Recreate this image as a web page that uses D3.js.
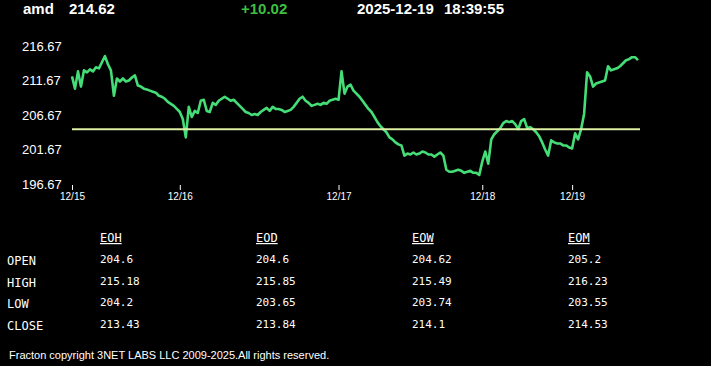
<!DOCTYPE html>
<html>
<head>
<meta charset="utf-8">
<script src="https://cdn.jsdelivr.net/npm/d3@7"></script>
<style>
  html, body { margin: 0; padding: 0; background: #000; }
  svg { display: block; }
</style>
</head>
<body>
<svg id="chart" width="711" height="366"></svg>
<script>
// ---- header ----
const symbol = "amd";
const lastPrice = "214.62";
const change = "+10.02";
const dateText = "2025-12-19";
const timeText = "18:39:55";

// ---- price series (sampled intraday, 12/15 .. 12/19) ----
const prices = [
  212.26, 210.49, 212.99, 210.79, 213.14, 212.85, 213.29, 212.99, 213.58, 213.43,
  214.32, 215.20, 214.02, 213.14, 209.46, 211.96, 211.52, 211.96, 211.52, 211.67,
  212.11, 212.41, 210.93, 210.79, 210.49, 210.35, 210.20, 210.05, 209.91, 209.46,
  209.32, 209.02, 208.58, 208.29, 207.99, 207.55, 207.11, 206.08, 203.43, 207.85,
  206.38, 207.26, 206.96, 208.73, 208.88, 207.26, 207.11, 208.43, 208.14, 208.73,
  209.02, 209.32, 209.02, 208.73, 208.88, 208.43, 207.99, 207.55, 207.11, 206.96,
  206.67, 206.82, 206.67, 207.11, 207.41, 207.70, 207.26, 207.85, 207.55, 207.55,
  207.41, 207.11, 207.26, 207.41, 207.85, 208.43, 209.02, 209.32, 208.73, 208.43,
  207.99, 208.14, 208.29, 208.14, 208.43, 208.29, 208.73, 208.88, 209.02, 208.88,
  212.99, 209.76, 210.79, 211.08, 210.20, 209.76, 209.32, 208.73, 208.14, 207.55,
  207.11, 206.38, 205.64, 205.05, 204.61, 204.17, 203.43, 203.14, 202.70, 202.41,
  202.26, 200.79, 201.08, 200.94, 201.23, 200.94, 201.08, 201.38, 201.23, 200.94,
  200.94, 200.64, 200.94, 201.23, 200.79, 198.73, 198.44, 198.44, 198.58, 198.73,
  198.58, 198.29, 198.44, 198.58, 198.29, 198.29, 197.99, 199.91, 201.38, 199.61,
  203.14, 203.88, 204.32, 204.76, 205.49, 205.79, 205.64, 205.79, 205.35, 204.61,
  205.79, 206.08, 204.76, 204.91, 204.61, 204.17, 203.58, 202.70, 201.67, 200.79,
  202.99, 202.70, 202.55, 202.55, 202.26, 202.26, 201.96, 201.82, 204.02, 203.14,
  204.61, 206.82, 212.85, 212.26, 210.79, 211.23, 211.38, 211.52, 211.67, 213.73,
  213.14, 213.29, 213.43, 213.73, 214.17, 214.61, 214.76, 215.05, 215.05, 214.62
];
const refLine = 204.6;   // open reference

// day boundaries (index in series) and labels
const dayLabels = ["12/15", "12/16", "12/17", "12/18", "12/19"];
const dayStarts = [0, 36, 89, 137, 167];

// y-axis tick values
const yTicks = [196.67, 201.67, 206.67, 211.67, 216.67];

// ---- table ----
const tableCols = ["EOH", "EOD", "EOW", "EOM"];
const tableRows = ["OPEN", "HIGH", "LOW", "CLOSE"];
const openVals  = ["204.6", "204.6", "204.62", "205.2"];
const highVals  = ["215.18", "215.85", "215.49", "216.23"];
const lowVals   = ["204.2", "203.65", "203.74", "203.55"];
const closeVals = ["213.43", "213.84", "214.1", "214.53"];
const tableVals = [openVals, highVals, lowVals, closeVals];

const footer = "Fracton copyright 3NET LABS LLC 2009-2025.All rights reserved.";

// ---- drawing ----
const svg = d3.select("#chart");
svg.append("rect").attr("width", 711).attr("height", 366).attr("fill", "#000");

const sans = "Arial, 'Liberation Sans', sans-serif";
const mono = "'DejaVu Sans Mono', monospace";

// header
const hdr = svg.append("g").attr("font-family", sans).attr("font-weight", "bold").attr("font-size", 15);
hdr.append("text").attr("x", 23).attr("y", 14).attr("fill", "#fff").text(symbol);
hdr.append("text").attr("x", 69).attr("y", 14).attr("fill", "#fff").text(lastPrice);
hdr.append("text").attr("x", 241).attr("y", 14).attr("fill", "#3fbf3f").text(change);
hdr.append("text").attr("x", 357).attr("y", 14).attr("fill", "#fff").text(dateText);
hdr.append("text").attr("x", 444).attr("y", 14).attr("fill", "#fff").text(timeText);

// scales
const x = d3.scaleLinear().domain([0, prices.length - 1]).range([72, 638]);
const y = d3.scaleLinear().domain([196.67, 216.67]).range([184, 46]);

// y tick labels
svg.append("g").selectAll("text").data(yTicks).join("text")
  .attr("x", 22).attr("y", d => y(d) + 4.5)
  .attr("fill", "#fff").attr("font-family", sans).attr("font-size", 13)
  .text(d => d.toFixed(2));

// x axis ticks (day starts)
const xAxis = d3.axisBottom(x)
  .tickValues(dayStarts)
  .tickFormat((d, i) => dayLabels[i])
  .tickSize(5)
  .tickPadding(3);
const gx = svg.append("g").attr("transform", "translate(0,185)").call(xAxis);
gx.select(".domain").remove();
gx.selectAll(".tick line").attr("stroke", "#fff");
gx.selectAll(".tick text").attr("fill", "#fff").attr("font-family", sans).attr("font-size", 10);

// price line
const line = d3.line().x((d, i) => x(i)).y(d => y(d));
svg.append("path").datum(prices)
  .attr("d", line)
  .attr("fill", "none")
  .attr("stroke", "#44dd77")
  .attr("stroke-width", 2.6)
  .attr("stroke-linejoin", "round");

// reference line
svg.append("line")
  .attr("x1", x(0)).attr("x2", x(prices.length - 1) + 2)
  .attr("y1", y(refLine)).attr("y2", y(refLine))
  .attr("stroke", "#dcefa4").attr("stroke-width", 2);

// table
const colX = d3.scalePoint().domain(tableCols).range([100, 568]);
const rowY = d3.scalePoint().domain(tableRows).range([264, 328.5]);
const tbl = svg.append("g").attr("fill", "#fff").attr("font-family", mono);
tbl.selectAll("text.hdr").data(tableCols).join("text").attr("class", "hdr")
  .attr("x", d => colX(d)).attr("y", 242).attr("font-size", 12)
  .attr("text-decoration", "underline").text(d => d);
tbl.selectAll("text.lbl").data(tableRows).join("text").attr("class", "lbl")
  .attr("x", 7).attr("y", d => rowY(d) + 1).attr("font-size", 12).text(d => d);
tableVals.forEach((vals, r) => {
  tbl.selectAll("text.v" + r).data(vals).join("text").attr("class", "v" + r)
    .attr("x", (d, c) => colX(tableCols[c])).attr("y", rowY(tableRows[r]) - 1)
    .attr("font-size", 11).text(d => d);
});

// footer
svg.append("text").attr("x", 9).attr("y", 359).attr("fill", "#fff")
  .attr("font-family", sans).attr("font-size", 11).text(footer);
</script>
</body>
</html>
